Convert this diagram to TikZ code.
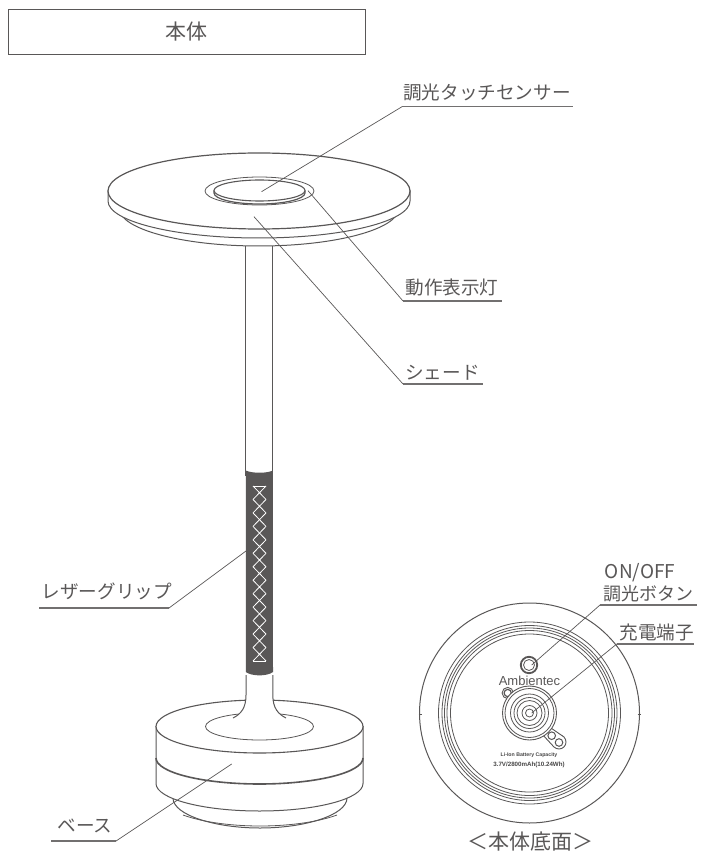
\documentclass[tikz,border=0pt]{standalone}
\usepackage{fontspec}
\newfontfamily\cjk{Noto Sans CJK JP}
\newfontfamily\arial{Liberation Sans}
\definecolor{ink}{HTML}{595757}
\tikzset{
  lbl/.style={inner sep=0pt,text=ink,font=\cjk\fontsize{18.6}{22}\selectfont},
  part/.style={draw=ink,line width=1pt,fill=white},
  thin part/.style={draw=ink,line width=.8pt},
  uline/.style={draw=ink!85,line width=1.1pt},
  leader/.style={draw=ink,line width=.7pt},
  stitch/.style={draw=white,line width=.8pt}
}
\begin{document}
\begin{tikzpicture}[x=1pt,y=-1pt]
\useasboundingbox (0,0) rectangle (720,858);
% title
\node[draw=ink,line width=.8pt,minimum width=357pt,minimum height=45pt,inner sep=0pt,text=ink,font=\cjk\fontsize{21}{24}\selectfont] (title) at (186.5,31.5) {本体};

% pole
\draw[part] (245.8,240) -- (245.8,475) -- (272.8,475) -- (272.8,240);
% shade
\draw[part] (259,208) ellipse [x radius=140,y radius=38];
\draw[part] (108,191) -- (108,201) arc [start angle=180,end angle=0,x radius=151,y radius=37] -- (410,191) -- cycle;
\draw[part,line width=1.2pt] (259,191) ellipse [x radius=151,y radius=38];
\draw[thin part] (259.5,191) ellipse [x radius=54.5,y radius=14];
\draw[part,line width=1.2pt] (214,190.5) -- (214,193) arc [start angle=180,end angle=0,x radius=45.5,y radius=11] -- (305,190.5);
\draw[part,line width=1.1pt] (259.5,190.5) ellipse [x radius=45.5,y radius=10.5];

% base foot
\draw[part] (173,798) .. controls (173,815) and (215,828) .. (260,828) .. controls (305,828) and (347,815) .. (347,798) -- cycle;
\draw[thin part] (183,815) .. controls (205,823) and (235,826) .. (260,826) .. controls (285,826) and (315,823) .. (337,815);
% base body
\draw[part] (156,726.5) -- (156,783.5) arc [start angle=180,end angle=0,x radius=103.5,y radius=27.5] -- (363,726.5) -- cycle;
\draw[ink,line width=1.6pt] (156,758) arc [start angle=180,end angle=0,x radius=103.5,y radius=26];
\draw[part,line width=1.1pt] (259.5,726.5) ellipse [x radius=103.5,y radius=26.5];
\draw[thin part] (259.5,726.5) ellipse [x radius=54,y radius=13.5];
% pole flare
\fill[white] (246,675) -- (246,695) .. controls (246,708) and (241,714) .. (233,718) -- (286,718) .. controls (278,714) and (272.8,708) .. (272.8,695) -- (272.8,675) -- cycle;
\draw[ink,line width=1pt] (246,675) -- (246,695) .. controls (246,708) and (241,714) .. (233,718);
\draw[ink,line width=1pt] (272.8,675) -- (272.8,695) .. controls (272.8,708) and (278,714) .. (286,718);

% leather grip
\fill[ink] (245.8,470.5) .. controls (252,473.5) and (267,473.5) .. (272.8,470.5) -- (273,672) .. controls (267,676.5) and (252,676.5) .. (245.8,672) -- cycle;
\foreach \k in {0,...,12}{
  \pgfmathsetmacro{\ya}{486+13.46*\k}
  \pgfmathsetmacro{\yb}{486+13.46*(\k+1)}
  \draw[stitch] (253,\ya) -- (266,\yb) (266,\ya) -- (253,\yb);
}
\draw[stitch] (253,486) -- (266,486) (253,661) -- (266,661);

% bottom view
\draw[thin part,line width=1pt] (529.5,713) circle [radius=110];
\draw[ink,line width=.6pt] (418.5,714) -- (421.5,714) (637.5,714) -- (640.5,714);
\foreach \r in {91,87.5,85,82.5,79}{\draw[thin part] (529.5,713) circle [radius=\r];}
\draw[ink,line width=1.8pt] (529,665) circle [radius=8.2];
\draw[thin part] (529,665) circle [radius=5.5];
\node[inner sep=0pt,text=ink,font=\arial\fontsize{13}{14}\selectfont] (brand) at (529.5,681) {Ambientec};
% hub with lugs
\draw[part,line width=.9pt] (507.7,693) circle [radius=5.6];
\draw[thin part,line width=1.2pt] (507.7,693) circle [radius=3.6];
\draw[part,line width=.9pt] (559,742) circle [radius=7];
\fill[white] (549,726) -- (564,737) -- (554,747) -- (542,734) -- cycle;
\draw[ink,line width=.9pt] (549.5,727) -- (564,737);
\draw[ink,line width=.9pt] (542,734) -- (554,747);
\draw[part,line width=.9pt] (529.5,713) circle [radius=27];
\draw[thin part] (529.5,713) circle [radius=24.5];
\foreach \r in {19,15.5,12.5,7.5,4}{\draw[thin part] (529.5,713) circle [radius=\r];}
\draw[thin part,line width=1pt] (551.7,735.7) circle [radius=3.8];
\draw[thin part,line width=1pt] (559,742.5) circle [radius=3.8];
\node[inner sep=0pt,text=ink!80!black,font=\arial\bfseries\fontsize{5.2}{6}\selectfont] (cap1) at (529,755) {Li-Ion Battery Capacity};
\node[inner sep=0pt,text=ink!80!black,font=\arial\bfseries\fontsize{6.2}{7}\selectfont] (cap2) at (529,765) {3.7V/2800mAh(10.24Wh)};

% labels
\node[lbl] (touch) at (487,92.5) {調光タッチセンサー};
\coordinate (touchA) at (402,106.7); \coordinate (touchB) at (573,106.7); \coordinate (touchT) at (261.5,191.7);
\draw[uline] (touchA) -- (touchB); \draw[leader] (touchT) -- (touchA);

\node[lbl] (lamp) at (452,287) {動作表示灯};
\coordinate (lampA) at (403,301); \coordinate (lampB) at (501.7,301); \coordinate (lampT) at (308,190.7);
\draw[uline] (lampA) -- (lampB); \draw[leader] (lampT) -- (lampA);

\node[lbl] (shade) at (442.5,372.7) {シェード};
\coordinate (shadeA) at (403,384); \coordinate (shadeB) at (483,384); \coordinate (shadeT) at (254,216.7);
\draw[uline] (shadeA) -- (shadeB); \draw[leader] (shadeT) -- (shadeA);

\node[lbl] (grip) at (106.7,591.7) {レザーグリップ};
\coordinate (gripA) at (169,608); \coordinate (gripB) at (39,608); \coordinate (gripT) at (246,551);
\draw[uline] (gripA) -- (gripB); \draw[leader] (gripT) -- (gripA);

\node[lbl] (basel) at (85,826) {ベース};
\coordinate (baseA) at (116,841); \coordinate (baseB) at (51,841); \coordinate (baseT) at (231.7,764);
\draw[uline] (baseA) -- (baseB); \draw[leader] (baseT) -- (baseA);

\node[lbl,font=\cjk\fontsize{19}{22}\selectfont] (onoff) at (640,572.5) {ON/OFF};
\node[lbl,font=\cjk\fontsize{18}{22}\selectfont] (dim) at (648,594) {調光ボタン};
\coordinate (dimA) at (600,605); \coordinate (dimB) at (696.7,605); \coordinate (dimT) at (531.7,665);
\draw[uline] (dimA) -- (dimB); \draw[leader] (dimT) -- (dimA);

\node[lbl] (port) at (656.7,632) {充電端子};
\coordinate (portA) at (616.7,644); \coordinate (portB) at (694,644); \coordinate (portT) at (531.7,713);
\draw[uline] (portA) -- (portB); \draw[leader] (portT) -- (portA);

\node[lbl,font=\cjk\fontsize{21}{24}\selectfont] (under) at (530,842) {＜本体底面＞};
\end{tikzpicture}
\end{document}
